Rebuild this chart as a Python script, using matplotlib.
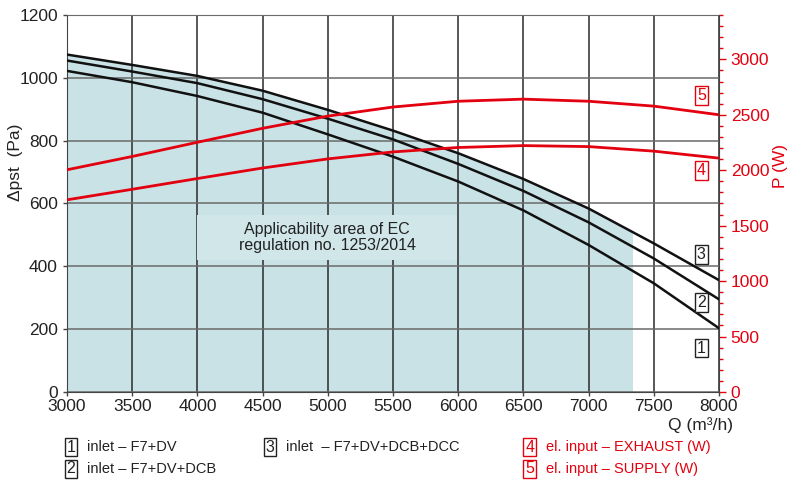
import matplotlib.pyplot as plt
from matplotlib.patches import Rectangle
from matplotlib.ticker import MultipleLocator

plt.rcParams['font.family'] = ['Liberation Sans', 'DejaVu Sans']

# airflow Q (m3/h)
q = [3000, 3500, 4000, 4500, 5000, 5500, 6000, 6500, 7000, 7500, 8000]

# static pressure curves (Pa)
dp_f7_dv = [1022, 986, 942, 889, 820, 749, 670, 578, 468, 346, 203]
dp_f7_dv_dcb = [1055, 1020, 983, 932, 870, 804, 726, 640, 540, 425, 295]
dp_f7_dv_dcb_dcc = [1074, 1041, 1006, 959, 898, 832, 760, 678, 584, 473, 356]

# electrical input (W)
p_exhaust = [1733, 1828, 1925, 2020, 2102, 2165, 2205, 2222, 2213, 2172, 2109]
p_supply = [2004, 2124, 2252, 2378, 2488, 2570, 2622, 2641, 2622, 2578, 2500]

ec_limit = 7330  # right edge of the applicability area

legend_items = [
    ("1", "inlet – F7+DV"),
    ("2", "inlet – F7+DV+DCB"),
    ("3", "inlet  – F7+DV+DCB+DCC"),
    ("4", "el. input – EXHAUST (W)"),
    ("5", "el. input – SUPPLY (W)"),
]

red = '#e3000f'
fill_col = '#c9e2e6'
box_col = '#d0e6e9'

fig = plt.figure(figsize=(7.92, 4.83), dpi=100)
ax = fig.add_axes([0.0846, 0.1884, 0.8232, 0.7806])
ax2 = ax.twinx()

# shaded applicability area under the top curve
area = ax.fill_between(q, 0, dp_f7_dv_dcb_dcc, color=fill_col, lw=0, zorder=0)
clip = Rectangle((3000, 0), ec_limit - 3000, 1200, transform=ax.transData)
area.set_clip_path(clip)

ax.set_xlim(3000, 8000)
ax.set_ylim(0, 1200)
ax.xaxis.set_major_locator(MultipleLocator(500))
ax.yaxis.set_major_locator(MultipleLocator(200))
ax.set_axisbelow(True)
ax.xaxis.grid(True, color='#2a2a2a', lw=1.1, zorder=1)
ax.yaxis.grid(True, color='#6a6a6a', lw=1.1, zorder=1)

# note box covering the grid
ax.add_patch(Rectangle((4000, 420), 1990, 143, facecolor=box_col, edgecolor='none', zorder=2))
ax.text(4995, 492, "Applicability area of EC\nregulation no. 1253/2014", ha='center', va='center',
        fontsize=11.5, color='#222222', linespacing=1.15, zorder=3)

for vals in (dp_f7_dv, dp_f7_dv_dcb, dp_f7_dv_dcb_dcc):
    ax.plot(q, vals, color='#111111', lw=1.8, zorder=4)

ax.tick_params(axis='both', direction='out', length=3, width=1, color='#444444',
               labelsize=12.5, labelcolor='#222222')
ax.tick_params(axis='x', pad=2)
for s in ('left', 'bottom'):
    ax.spines[s].set_color('#444444')
ax.spines['top'].set_color('#6a6a6a')
ax.spines['right'].set_visible(False)

ax2.set_ylim(0, 3400)
ax2.plot(q, p_exhaust, color=red, lw=2.0)
ax2.plot(q, p_supply, color=red, lw=2.0)
ax2.yaxis.set_major_locator(MultipleLocator(500))
ax2.yaxis.set_minor_locator(MultipleLocator(100))
ax2.tick_params(axis='y', which='major', direction='out', length=5, width=1, color=red,
                labelcolor=red, labelsize=12.5)
ax2.tick_params(axis='y', which='minor', direction='out', length=3, width=1, color=red)
ax2.spines['right'].set_color('#444444')
for s in ('left', 'top', 'bottom'):
    ax2.spines[s].set_visible(False)

# curve numbers
box_black = dict(boxstyle='square,pad=0.12', facecolor='white', edgecolor='#222222', lw=1)
box_red = dict(boxstyle='square,pad=0.12', facecolor='white', edgecolor=red, lw=1)
for num, val in (("1", 140), ("2", 286), ("3", 438)):
    ax.text(7865, val, num, ha='center', va='center', fontsize=11.5, color='#222222',
            bbox=box_black, zorder=5)
for num, val in (("4", 1995), ("5", 2671)):
    ax2.text(7865, val, num, ha='center', va='center', fontsize=11.5, color=red,
             bbox=box_red, zorder=5)

# axis titles
fig.text(0.019, 0.663, "Δpst  (Pa)", rotation=90, ha='center', va='center', fontsize=12.5, color='#222222')
fig.text(0.985, 0.656, "P (W)", rotation=90, ha='center', va='center', fontsize=12.5, color=red)
fig.text(0.9255, 0.121, "Q (m³/h)", ha='right', va='center', fontsize=12.5, color='#222222')

# legend below the chart
positions = [(0.0896, 0.0745), (0.0896, 0.029), (0.341, 0.0745), (0.669, 0.0745), (0.669, 0.029)]
for (num, label), (x, y) in zip(legend_items, positions):
    col = red if num in ("4", "5") else '#222222'
    fig.text(x, y, num, ha='center', va='center', fontsize=11.5, color=col,
             bbox=box_red if col == red else box_black)
    fig.text(x + 0.02, y, label, ha='left', va='center', fontsize=10.5, color=col)

fig.savefig('out.png', dpi=100)
